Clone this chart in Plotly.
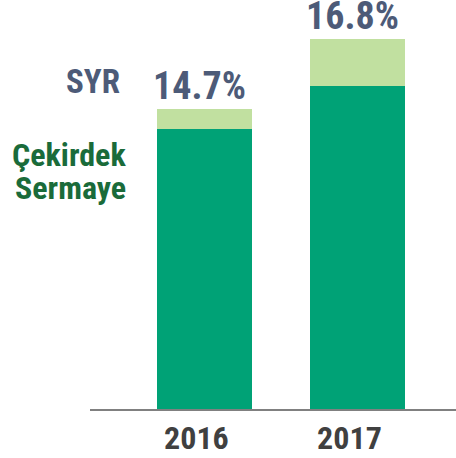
import plotly.graph_objects as go

# chart data
years       = ['2016', '2017']
core_ratio  = [14.1, 15.4]          # Çekirdek Sermaye
car_ratio   = [14.7, 16.8]          # SYR
car_labels  = ['14.7%', '16.8%']
extra       = [round(t - c, 2) for t, c in zip(car_ratio, core_ratio)]

FONT       = '"Liberation Sans Narrow", "Arial Narrow", "Roboto Condensed", Arial, sans-serif'
DARK_GREEN = '#00A276'
LITE_GREEN = '#C1E0A0'
SLATE      = '#4D5B78'
TXT_GREEN  = '#1A6B3A'

fig = go.Figure()

fig.add_trace(go.Bar(x            = years,
                     y            = core_ratio,
                     width        = 0.62,
                     marker       = dict(color = DARK_GREEN, line = dict(width = 0)),
                     hoverinfo    = 'skip',
                     showlegend   = False))

fig.add_trace(go.Bar(x            = years,
                     y            = extra,
                     width        = 0.62,
                     marker       = dict(color = LITE_GREEN, line = dict(width = 0)),
                     hoverinfo    = 'skip',
                     showlegend   = False))

# category index used as x, since '2016' would be read as a number
for i, (tot, lab) in enumerate(zip(car_ratio, car_labels)):
    fig.add_annotation(x         = i,
                       y         = tot,
                       text      = f'<b>{lab}</b>',
                       showarrow = False,
                       xanchor   = 'center',
                       yanchor   = 'bottom',
                       xshift    = -5,
                       yshift    = -1,
                       font      = dict(family = FONT, size = 38, color = SLATE))

# side labels
side_labels = [('SYR',      0.0874, 0.800, SLATE,     33),
               ('Çekirdek', 0.1038, 0.622, TXT_GREEN, 32),
               ('Sermaye',  0.1038, 0.540, TXT_GREEN, 32)]
for txt, px, py, col, fs in side_labels:
    fig.add_annotation(x = px, y = py, xref = 'paper', yref = 'paper',
                       text = f'<b>{txt}</b>', showarrow = False,
                       xanchor = 'right', yanchor = 'middle',
                       font = dict(family = FONT, size = fs, color = col))

fig.update_layout(barmode      = 'stack',
                  width        = 456,
                  height       = 458,
                  margin       = dict(l = 90, r = 0, t = 0, b = 49),
                  paper_bgcolor = 'white',
                  plot_bgcolor  = 'white',
                  xaxis        = dict(type          = 'category',
                                      range         = [-0.748, 1.644],
                                      automargin    = False,
                                      showline      = True,
                                      linecolor     = '#808080',
                                      linewidth     = 2,
                                      ticks         = '',
                                      showgrid      = False,
                                      ticklabelshift = -8,
                                      ticklabelstandoff = 0,
                                      tickfont      = dict(family = FONT, size = 32, color = '#404040', weight = 'bold')),
                  yaxis        = dict(range         = [5.66, 17.98],
                                      visible       = False,
                                      automargin    = False,
                                      showgrid      = False,
                                      zeroline      = False))

# the page body has a default margin, drop it so the figure fills the window
fig.write_html('out.html',
               config      = {'displayModeBar': False},
               post_script = "document.body.style.margin = '0';")
